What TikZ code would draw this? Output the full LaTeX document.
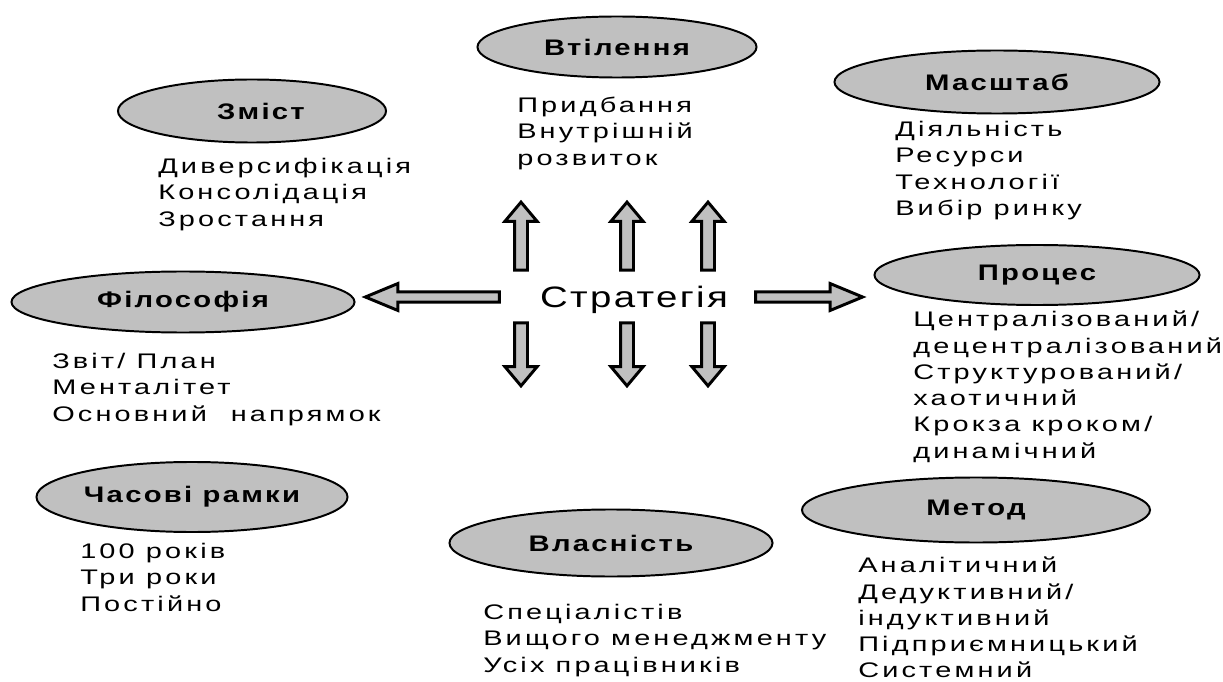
\documentclass[tikz,border=0pt]{standalone}
\usepackage{fontspec}
\setmainfont{Liberation Sans}
\newfontfamily\wideface{Liberation Sans}[FakeStretch=1.37,LetterSpace=15]
\newfontfamily\titleface{Liberation Sans}[FakeStretch=1.3,LetterSpace=10]
\newfontfamily\stratface{Liberation Sans}[FakeStretch=1.3,LetterSpace=8]
\usetikzlibrary{shapes.geometric,shapes.arrows}
\definecolor{ovalgray}{RGB}{192,192,192}
\tikzset{
  topic/.style={ellipse, draw, line width=1.4pt, fill=ovalgray, inner sep=0pt,
    font=\titleface\bfseries\fontsize{16}{19}\selectfont},
  itemlist/.style={anchor=north west, align=left, inner sep=0pt,
    font=\wideface\fontsize{15}{18.66}\selectfont},
  vblock/.style={single arrow, draw, line width=2.1pt, fill=ovalgray, inner sep=0pt,
    inner ysep=0.125cm, single arrow head extend=0.24cm, single arrow tip angle=80},
  hblock/.style={single arrow, draw, line width=2.1pt, fill=ovalgray, inner sep=0pt,
    inner ysep=0.09cm, single arrow head extend=0.21cm, single arrow tip angle=45}
}
\begin{document}
\begin{tikzpicture}[x=0.025cm,y=-0.025cm]
        \useasboundingbox (0,0) rectangle (1223,682);
        % Centre
        \node[anchor=base, inner sep=0pt, font=\stratface\fontsize{21}{25}\selectfont] (strat) at (634,308) {Стратегія};
        % Block arrows
        \node[vblock, rotate=90, minimum height=1.7cm] (up1) at (521,240) {};
        \node[vblock, rotate=90, minimum height=1.7cm] (up2) at (627,240) {};
        \node[vblock, rotate=90, minimum height=1.7cm] (up3) at (708,240) {};
        \node[vblock, rotate=-90, minimum height=1.575cm] (down1) at (521,350.5) {};
        \node[vblock, rotate=-90, minimum height=1.575cm] (down2) at (627,350.5) {};
        \node[vblock, rotate=-90, minimum height=1.575cm] (down3) at (708,350.5) {};
        \node[hblock, rotate=180, minimum height=3.35cm] (left) at (438.5,297) {};
        \node[hblock, minimum height=2.675cm] (right) at (803,297) {};
        % Ovals
        \node[topic, minimum width=6.975cm, minimum height=1.525cm] (embod) at (617,47) {Втілення};
        \node[topic, minimum width=6.7cm, minimum height=1.575cm] (content) at (252,111) {\hspace*{0.8em}Зміст};
        \node[topic, minimum width=8.125cm, minimum height=1.575cm] (scale) at (997,82) {Масштаб};
        \node[topic, minimum width=8.575cm, minimum height=1.525cm] (philo) at (183,302) {Філософія};
        \node[topic, minimum width=8.125cm, minimum height=1.5cm] (process) at (1037,275) {Процес};
        \node[topic, minimum width=7.775cm, minimum height=1.75cm] (time) at (192,497) {Часові рамки};
        \node[topic, minimum width=8.075cm, minimum height=1.675cm] (owner) at (611,543) {Власність};
        \node[topic, minimum width=8.7cm, minimum height=1.625cm] (method) at (976,510) {Метод};
        % Item lists
        \node[itemlist] (embodlist) at (517,97) {Придбання\\Внутрішній\\розвиток};
        \node[itemlist] (contentlist) at (158,158) {Диверсифікація\\Консолідація\\Зростання};
        \node[itemlist] (scalelist) at (895,121) {Діяльність\\Ресурси\\Технології\\Вибір ринку};
        \node[itemlist] (philolist) at (52,353) {Звіт/ План\\Менталітет\\Основний\hspace{0.6em} напрямок};
        \node[itemlist] (processlist) at (913,311) {Централізований/\\децентралізований\\Структурований/\\хаотичний\\Крокза кроком/\\динамічний};
        \node[itemlist] (timelist) at (80,543) {100 років\\Три роки\\Постійно};
        \node[itemlist] (ownerlist) at (483,604) {Спеціалістів\\Вищого менеджменту\\Усіх працівників};
        \node[itemlist] (methodlist) at (858,557) {Аналітичний\\Дедуктивний/\\індуктивний\\Підприємницький\\Системний};
\end{tikzpicture}
\end{document}
